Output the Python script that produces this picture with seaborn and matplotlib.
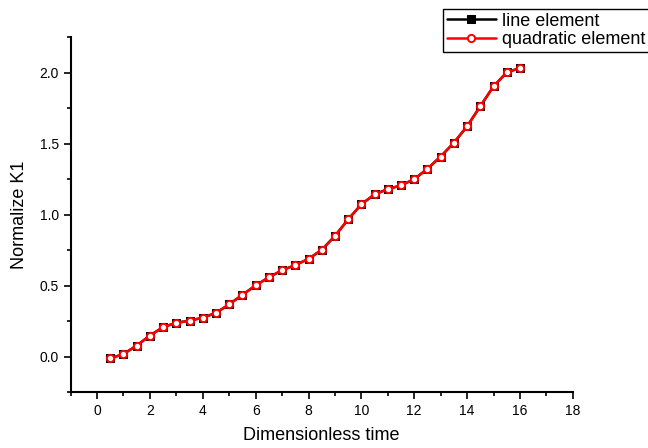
import numpy as np
import pandas as pd
import matplotlib
matplotlib.use("Agg")
import matplotlib.pyplot as plt
import seaborn as sns
from matplotlib.ticker import MultipleLocator

# data
time = [0.5, 1.0, 1.5, 2.0, 2.5, 3.0, 3.5, 4.0, 4.5, 5.0, 5.5, 6.0, 6.5, 7.0, 7.5, 8.0,
        8.5, 9.0, 9.5, 10.0, 10.5, 11.0, 11.5, 12.0, 12.5, 13.0, 13.5, 14.0, 14.5, 15.0,
        15.5, 16.0]
k1_line = [-0.01, 0.02, 0.08, 0.15, 0.21, 0.24, 0.255, 0.276, 0.31, 0.37, 0.437, 0.503,
           0.56, 0.61, 0.646, 0.69, 0.753, 0.851, 0.968, 1.074, 1.144, 1.181, 1.207, 1.251,
           1.324, 1.41, 1.507, 1.623, 1.764, 1.904, 2.002, 2.033]
k1_quad = [-0.01, 0.02, 0.08, 0.15, 0.21, 0.24, 0.255, 0.276, 0.31, 0.37, 0.437, 0.503,
           0.56, 0.61, 0.646, 0.69, 0.753, 0.851, 0.968, 1.074, 1.144, 1.181, 1.207, 1.251,
           1.324, 1.41, 1.507, 1.623, 1.764, 1.904, 2.002, 2.033]
labels = ["line element", "quadratic element"]

sns.set_style("ticks")
plt.rcParams["font.family"] = ["Liberation Sans", "DejaVu Sans"]
plt.rcParams["text.color"] = "black"
plt.rcParams["axes.labelcolor"] = "black"
plt.rcParams["xtick.color"] = "black"
plt.rcParams["ytick.color"] = "black"
plt.rcParams["axes.edgecolor"] = "black"

fig = plt.figure(figsize=(6.48, 4.48), dpi=100)
ax = fig.add_axes([0.109, 0.124, 0.775, 0.793])

sns.lineplot(x=time, y=k1_line, ax=ax, color="black", marker="s", markersize=5.8,
             markerfacecolor="black", markeredgecolor="black", linewidth=1.8,
             label=labels[0])
sns.lineplot(x=time, y=k1_quad, ax=ax, color="red", marker="o", markersize=5.2,
             markerfacecolor="white", markeredgecolor="red", markeredgewidth=1.4,
             linewidth=1.8, label=labels[1])

ax.set_xlim(-1, 18)
ax.set_ylim(-0.25, 2.25)
ax.xaxis.set_major_locator(MultipleLocator(2))
ax.xaxis.set_minor_locator(MultipleLocator(1))
ax.yaxis.set_major_locator(MultipleLocator(0.5))
ax.yaxis.set_minor_locator(MultipleLocator(0.25))
ax.yaxis.set_major_formatter(matplotlib.ticker.FormatStrFormatter("%.1f"))
ax.tick_params(which="major", direction="out", length=5, width=1.2, labelsize=10)
ax.tick_params(which="minor", direction="out", length=3, width=1.2)

sns.despine(ax=ax)
for side in ["left", "bottom"]:
    ax.spines[side].set_linewidth(1.5)

ax.set_xlabel("Dimensionless time", fontsize=13, labelpad=6)
ax.set_ylabel("Normalize K1", fontsize=13, labelpad=8)

leg = ax.legend(loc="upper left", bbox_to_anchor=(0.684, 0.98),
                bbox_transform=fig.transFigure, fontsize=13, frameon=True,
                fancybox=False, edgecolor="black", framealpha=1,
                handlelength=2.7, labelspacing=0.1, borderpad=0.2,
                handletextpad=0.35, borderaxespad=0)
leg.get_frame().set_linewidth(1.0)

fig.savefig("out.png", dpi=100)
